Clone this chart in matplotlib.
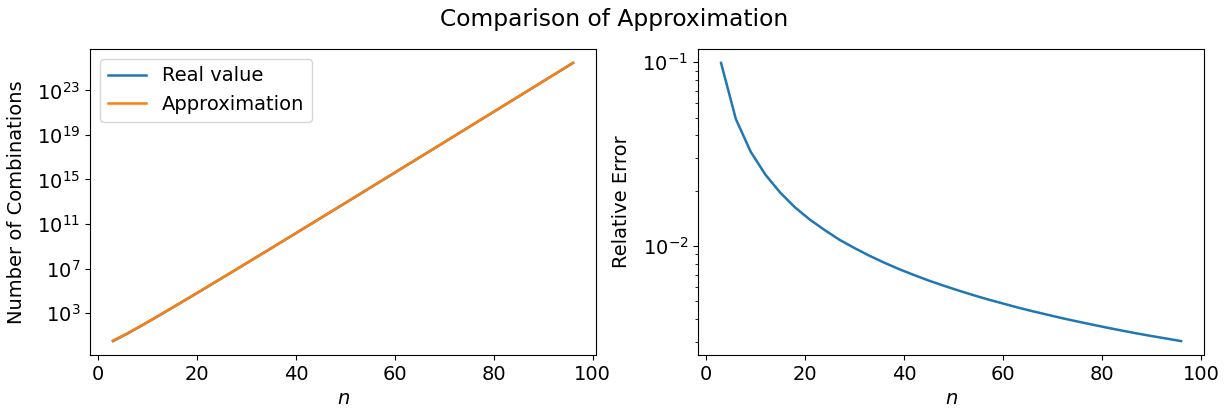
import matplotlib
matplotlib.use("Agg")
import matplotlib.pyplot as plt
import matplotlib.ticker as mticker
import numpy as np

plt.rcParams['font.size'] = 14
plt.rcParams['lines.linewidth'] = 1.8

n = [3, 6, 9, 12, 15, 18, 21, 24, 27, 30, 33, 36, 39, 42, 45, 48,
     51, 54, 57, 60, 63, 66, 69, 72, 75, 78, 81, 84, 87, 90, 93, 96]

# real number of combinations, C(n, n/3)
real_value = [3, 15, 84, 495, 3003, 18564, 116280, 735471, 4686825,
              30045015, 193536720, 1251677700, 8122425444, 52860229080,
              344867425584, 2254848913647,
              1.4771e13, 9.6927e13, 6.3699e14, 4.1918e15, 2.7620e16,
              1.8219e17, 1.2030e18, 7.9505e18, 5.2590e19, 3.4814e20,
              2.3063e21, 1.5289e22, 1.0142e23, 6.7315e23, 4.4703e24,
              2.9702e25]

rel_error = [0.0993, 0.0491, 0.0326, 0.0244, 0.0195, 0.0162, 0.0139, 0.0122,
             0.0108, 0.00975, 0.00886, 0.00812, 0.00749, 0.00696, 0.00649,
             0.00609, 0.00573, 0.00541, 0.00512, 0.00487, 0.00463, 0.00442,
             0.00423, 0.00405, 0.00389, 0.00374, 0.00360, 0.00347, 0.00335,
             0.00324, 0.00314, 0.00304]

left_ticks = [1e3, 1e7, 1e11, 1e15, 1e19, 1e23]

approx = np.array(real_value) * (1 + np.array(rel_error))

fig, (ax1, ax2) = plt.subplots(1, 2, figsize=(12.28, 4.13), dpi=100)
fig.subplots_adjust(left=0.0733, right=0.9805, top=0.8814, bottom=0.1404,
                    wspace=0.2016)

ax1.plot(n, real_value, label="Real value")
ax1.plot(n, approx, label="Approximation")
ax1.set_yscale("log")
ax1.yaxis.set_major_locator(mticker.FixedLocator(left_ticks))
ax1.yaxis.set_minor_locator(mticker.NullLocator())
ax1.set_xlabel("$n$")
ax1.set_ylabel("Number of Combinations", labelpad=8)
ax1.legend(loc="upper left")
ax1.set_xticks([0, 20, 40, 60, 80, 100])

ax2.plot(n, rel_error)
ax2.set_yscale("log")
ax2.set_xlabel("$n$")
ax2.set_ylabel("Relative Error", labelpad=8)
ax2.set_xticks([0, 20, 40, 60, 80, 100])

fig.suptitle("Comparison of Approximation", fontsize=16.8)
fig.savefig("out.png")
